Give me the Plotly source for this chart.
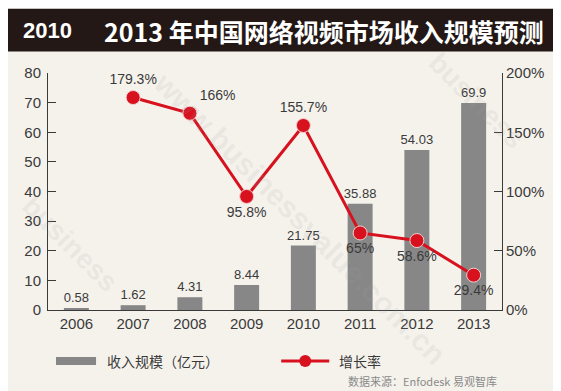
import plotly.graph_objects as go

years = ["2006", "2007", "2008", "2009", "2010", "2011", "2012", "2013"]
revenue = [0.58, 1.62, 4.31, 8.44, 21.75, 35.88, 54.03, 69.9]
revenue_labels = ["0.58", "1.62", "4.31", "8.44", "21.75", "35.88", "54.03", "69.9"]
growth_years = ["2007", "2008", "2009", "2010", "2011", "2012", "2013"]
growth = [179.3, 166, 95.8, 155.7, 65, 58.6, 29.4]
growth_labels = ["179.3%", "166%", "95.8%", "155.7%", "65%", "58.6%", "29.4%"]
left_ticks = [0, 10, 20, 30, 40, 50, 60, 70, 80]
right_ticks = [0, 50, 100, 150, 200]
right_tick_text = ["0%", "50%", "100%", "150%", "200%"]
title_a = "2010"
title_b = "2013 年中国网络视频市场收入规模预测"
legend_bar = "收入规模（亿元）"
legend_line = "增长率"
source = "数据来源：Enfodesk 易观智库"
watermark = "www.businessvalue.com.cn"
watermark_short = "business"

W, H = 561, 391
L, R, T, B = 40, 493.6, 64.5, 302.0

def px(x):
    return (x - L) / (R - L)

def py(y):
    return (B - y) / (B - T)

RED = "#d7111e"
BAR = "#878787"
TXT = "#3a3a3a"
FONT = "Liberation Sans, Noto Sans CJK SC, sans-serif"
CJK = "Noto Sans CJK SC, sans-serif"

fig = go.Figure()
fig.add_trace(go.Bar(
    x=years, y=revenue, marker=dict(color=BAR, line=dict(width=0)), width=0.44,
    text=revenue_labels, textposition="outside", constraintext="none",
    textfont=dict(size=13, color=TXT, family=FONT),
    cliponaxis=False, showlegend=False, hoverinfo="skip"))
fig.add_trace(go.Scatter(
    x=growth_years, y=growth, yaxis="y2", mode="lines+markers+text",
    line=dict(color=RED, width=3),
    marker=dict(size=14, color=RED, line=dict(color="#f3d0d0", width=1)),
    text=growth_labels,
    textposition=["top center", "top right", "bottom center", "top center",
                  "bottom center", "bottom center", "bottom center"],
    textfont=dict(size=14, color=TXT, family=FONT),
    cliponaxis=False, showlegend=False, hoverinfo="skip"))

shapes = []
shapes.append(dict(type="rect", xref="paper", yref="paper", x0=px(0), x1=px(550), y0=py(0), y1=py(391),
                   fillcolor="#f5f2ec", line=dict(width=0), layer="below"))
shades = ["#9a9a9a", "#b0b0b0", "#c4c4c4", "#d4d4d4", "#e0e0e0", "#e9e9e9", "#f0f0f0", "#f5f5f5"]
for i, c in enumerate(shades):
    shapes.append(dict(type="rect", xref="paper", yref="paper", x0=px(550 + i * 1.4), x1=px(550 + (i + 1) * 1.4),
                       y0=py(43), y1=py(391), fillcolor=c, line=dict(width=0), layer="below"))
shapes.append(dict(type="rect", xref="paper", yref="paper", x0=px(0), x1=px(551), y0=py(0), y1=py(43),
                   fillcolor="#231815", line=dict(width=0), layer="below"))
shapes.append(dict(type="rect", xref="paper", yref="paper", x0=px(48), x1=px(88), y0=py(349), y1=py(357),
                   fillcolor=BAR, line=dict(width=0)))
shapes.append(dict(type="line", xref="paper", yref="paper", x0=px(273), x1=px(321), y0=py(353), y1=py(353),
                   line=dict(color=RED, width=3)))
shapes.append(dict(type="circle", xref="paper", yref="paper", x0=px(291), x1=px(303), y0=py(347), y1=py(359),
                   fillcolor=RED, line=dict(width=0)))

annotations = [
    dict(text="<b>" + title_a + "</b>", xref="paper", yref="paper", x=px(13), y=py(22), xanchor="left",
         yanchor="middle", showarrow=False, font=dict(size=22, color="white", family="Liberation Sans, sans-serif")),
    dict(text="<b>" + title_b + "</b>", xref="paper", yref="paper", x=px(94), y=py(22), xanchor="left",
         yanchor="middle", showarrow=False, font=dict(size=25, color="white", family=CJK)),
    dict(text=legend_bar, xref="paper", yref="paper", x=px(97), y=py(353), xanchor="left", yanchor="middle",
         showarrow=False, font=dict(size=14, color=TXT, family=CJK)),
    dict(text=legend_line, xref="paper", yref="paper", x=px(329), y=py(353), xanchor="left", yanchor="middle",
         showarrow=False, font=dict(size=14, color=TXT, family=CJK)),
    dict(text=source, xref="paper", yref="paper", x=px(491), y=py(373), xanchor="right", yanchor="middle",
         showarrow=False, font=dict(size=11, color="#8a8a8a", family=CJK)),
]
for (cx, cy, txt, sz) in [(292, 210, watermark, 30), (62, 235, watermark_short, 28), (468, 92, watermark_short, 28)]:
    annotations.append(dict(text="<b>" + txt + "</b>", xref="paper", yref="paper", x=px(cx), y=py(cy),
                            xanchor="center", yanchor="middle", showarrow=False, textangle=45,
                            font=dict(size=sz, color="rgba(160,160,160,0.14)", family=FONT)))

fig.update_layout(
    width=W, height=H,
    margin=dict(l=L, r=W - R, t=T, b=H - B, pad=0),
    paper_bgcolor="white", plot_bgcolor="rgba(0,0,0,0)",
    shapes=shapes, annotations=annotations, bargap=0.5,
    xaxis=dict(type="category", range=[-0.5, 7.5], showline=True, linecolor=TXT, linewidth=1,
               ticks="", showgrid=False, zeroline=False,
               tickfont=dict(size=15, color=TXT, family=FONT)),
    yaxis=dict(range=[0, 80], tickvals=left_ticks, showline=True, linecolor=TXT, linewidth=1,
               ticks="inside", ticklen=8, tickcolor=TXT, showgrid=False, zeroline=False,
               tickfont=dict(size=15, color=TXT, family=FONT), ticklabelstandoff=3),
    yaxis2=dict(range=[0, 200], overlaying="y", side="right", tickvals=right_ticks, ticktext=right_tick_text,
                showline=True, linecolor=TXT, linewidth=1, ticks="inside", ticklen=8, tickcolor=TXT,
                showgrid=False, zeroline=False, tickfont=dict(size=15, color=TXT, family=FONT)),
)
fig.write_html("out.html")
